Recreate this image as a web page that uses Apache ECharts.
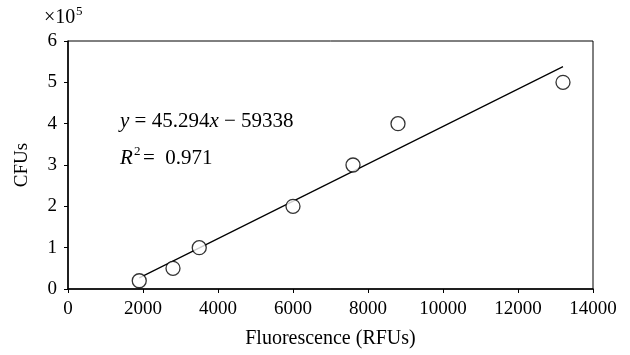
<!DOCTYPE html>
<html>
<head>
<meta charset="utf-8">
<script src="https://cdn.jsdelivr.net/npm/echarts@6/dist/echarts.min.js"></script>
<style>
  html, body { margin: 0; padding: 0; background: #fff; }
  #chart { width: 630px; height: 355px; }
</style>
</head>
<body>
<div id="chart"></div>
<script>
// Fluorescence (RFUs) vs CFUs (x10^5)
const fluorescence = [1900, 2800, 3500, 6000, 7600, 8800, 13200];
const cfus = [0.2, 0.5, 1.0, 2.0, 3.0, 4.0, 5.0];

// trend line end points
const trendX = [1900, 13200];
const trendY = [0.27, 5.38];

const xTicks = [0, 2000, 4000, 6000, 8000, 10000, 12000, 14000];
const yTicks = [0, 1, 2, 3, 4, 5, 6];

const FONT = '"Liberation Serif", "DejaVu Serif", serif';

const chart = echarts.init(document.getElementById('chart'));

function txt(left, top, text, size, italic) {
  return {
    type: 'text',
    left: left,
    top: top,
    style: {
      text: text,
      font: (italic ? 'italic ' : '') + size + 'px ' + FONT,
      fill: '#000',
    },
  };
}

chart.setOption({
  animation: false,
  backgroundColor: '#fff',
  textStyle: { fontFamily: FONT, color: '#000' },
  grid: {
    left: 68, right: 37, top: 41, bottom: 66,
    show: true, borderColor: '#000', borderWidth: 1,
  },
  xAxis: {
    type: 'value',
    min: xTicks[0],
    max: xTicks[xTicks.length - 1],
    interval: 2000,
    name: 'Fluorescence (RFUs)',
    nameLocation: 'middle',
    nameGap: 40,
    nameTextStyle: { fontFamily: FONT, fontSize: 20, color: '#000' },
    axisLine: { show: true, lineStyle: { color: '#000', width: 1.5 } },
    axisTick: { show: true, length: 4, lineStyle: { color: '#000' } },
    axisLabel: { fontFamily: FONT, fontSize: 19, color: '#000', margin: 11, formatter: (v) => String(v) },
    splitLine: { show: false },
  },
  yAxis: {
    type: 'value',
    min: yTicks[0],
    max: yTicks[yTicks.length - 1],
    interval: 1,
    name: 'CFUs',
    nameLocation: 'middle',
    nameGap: 36,
    nameRotate: 90,
    nameTextStyle: { fontFamily: FONT, fontSize: 19, color: '#000' },
    axisLine: { show: true, lineStyle: { color: '#000', width: 1.5 } },
    axisTick: { show: true, length: 4, lineStyle: { color: '#000' } },
    axisLabel: { fontFamily: FONT, fontSize: 19, color: '#000', margin: 11 },
    splitLine: { show: false },
  },
  graphic: [
    // axis multiplier
    txt(44, 8, '×10', 20, false),
    txt(76, 5, '5', 13, false),
    // regression equation
    {
      type: 'text',
      left: 120,
      top: 111,
      style: {
        text: '{i|y} = 45.294{i|x} − 59338',
        font: '21px ' + FONT,
        fill: '#000',
        rich: { i: { fontFamily: FONT, fontSize: 21, fontStyle: 'italic', fill: '#000' } },
      },
    },
    txt(120, 148, 'R', 21, true),
    txt(134, 145, '2', 13, false),
    txt(143, 148, '=  0.971', 21, false),
  ],
  series: [
    {
      name: 'Trend',
      type: 'line',
      data: trendX.map((x, i) => [x, trendY[i]]),
      showSymbol: false,
      lineStyle: { color: '#000', width: 1.2 },
      silent: true,
      z: 1,
    },
    {
      name: 'Data',
      type: 'scatter',
      data: fluorescence.map((x, i) => [x, cfus[i]]),
      symbol: 'circle',
      symbolSize: 14,
      itemStyle: { color: '#fff', borderColor: '#000', borderWidth: 1.3 },
      z: 2,
    },
  ],
});
</script>
</body>
</html>
